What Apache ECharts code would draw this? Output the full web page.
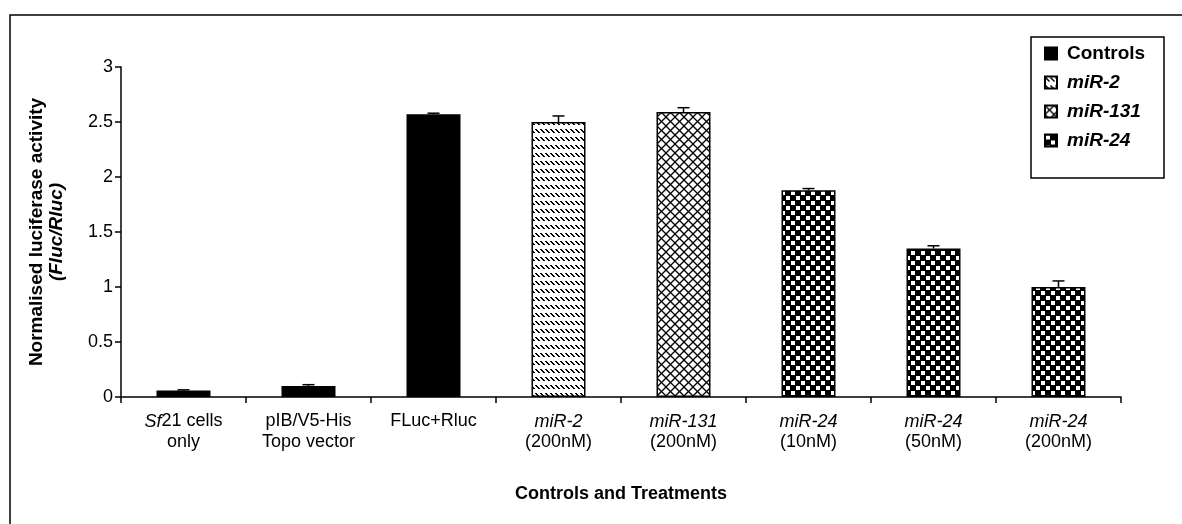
<!DOCTYPE html>
<html>
<head>
<meta charset="utf-8">
<script src="https://cdn.jsdelivr.net/npm/echarts@6/dist/echarts.min.js"></script>
<style>
html,body{margin:0;padding:0;background:#fff;}
#chart{width:1182px;height:524px;}
</style>
</head>
<body>
<div id="chart"></div>
<script>
// ---- data ----
var categories = ['Sf21 cells only', 'pIB/V5-His Topo vector', 'FLuc+Rluc', 'miR-2 (200nM)', 'miR-131 (200nM)', 'miR-24 (10nM)', 'miR-24 (50nM)', 'miR-24 (200nM)'];
var labelLine1 = ['{i|Sf}{n|21 cells}', '{n|pIB/V5-His}', '{n|FLuc+Rluc}', '{i|miR-2}', '{i|miR-131}', '{i|miR-24}', '{i|miR-24}', '{i|miR-24}'];
var labelLine2 = ['{n|only}', '{n|Topo vector}', '', '{n|(200nM)}', '{n|(200nM)}', '{n|(10nM)}', '{n|(50nM)}', '{n|(200nM)}'];
var values = [0.06, 0.10, 2.57, 2.50, 2.59, 1.88, 1.35, 1.00];
var errors = [0.005, 0.012, 0.01, 0.055, 0.04, 0.015, 0.025, 0.055];
var groups = ['Controls', 'Controls', 'Controls', 'miR-2', 'miR-131', 'miR-24', 'miR-24', 'miR-24'];
var seriesNames = ['Controls', 'miR-2', 'miR-131', 'miR-24'];
var yTicks = {min: 0, max: 3, interval: 0.5};

// ---- patterns ----
function makeCanvas(w, h, draw) {
  var c = document.createElement('canvas');
  c.width = w; c.height = h;
  var ctx = c.getContext('2d');
  ctx.fillStyle = '#fff';
  ctx.fillRect(0, 0, w, h);
  draw(ctx);
  return c;
}
var patDiag = makeCanvas(5, 8, function (ctx) {
  ctx.fillStyle = '#000';
  for (var k = 0; k < 4; k++) { ctx.fillRect(k, 1 + k, 2, 1); }
});
var patCross = makeCanvas(9, 9, function (ctx) {
  ctx.strokeStyle = '#000'; ctx.lineWidth = 1.3;
  ctx.beginPath(); ctx.moveTo(0, 0); ctx.lineTo(9, 9); ctx.stroke();
  ctx.beginPath(); ctx.moveTo(9, 0); ctx.lineTo(0, 9); ctx.stroke();
});
var patCheck = makeCanvas(10, 10, function (ctx) {
  ctx.fillStyle = '#000'; ctx.fillRect(0, 0, 10, 10);
  ctx.fillStyle = '#fff';
  ctx.fillRect(1, 1, 4, 4);
  ctx.fillRect(6, 6, 4, 4);
});
var fills = {
  'Controls': '#000',
  'miR-2': {image: patDiag, repeat: 'repeat'},
  'miR-131': {image: patCross, repeat: 'repeat'},
  'miR-24': {image: patCheck, repeat: 'repeat'}
};

var FONT = 'Liberation Sans, Arial, sans-serif';

var barSeries = seriesNames.map(function (name) {
  return {
    name: name,
    type: 'bar',
    barWidth: 54,
    barGap: '-100%',
    data: values.map(function (v, i) { return groups[i] === name ? v : '-'; }),
    itemStyle: {color: fills[name], borderColor: '#000', borderWidth: 1.5},
    emphasis: {disabled: true},
    z: 2
  };
});

var errData = values.map(function (v, i) { return [i, v, errors[i]]; });

var errSeries = {
  name: 'err',
  type: 'custom',
  data: errData,
  encode: {x: 0, y: 1},
  z: 5,
  renderItem: function (params, api) {
    var x = api.value(0), v = api.value(1), e = api.value(2);
    var p0 = api.coord([x, v]);
    var p1 = api.coord([x, v + e]);
    return {
      type: 'group',
      children: [
        {type: 'line', shape: {x1: p0[0], y1: p0[1], x2: p1[0], y2: p1[1]}, style: {stroke: '#000', lineWidth: 1.5}},
        {type: 'line', shape: {x1: p1[0] - 6, y1: p1[1], x2: p1[0] + 6, y2: p1[1]}, style: {stroke: '#000', lineWidth: 1.5}}
      ]
    };
  }
};

var chart = echarts.init(document.getElementById('chart'), null, {renderer: 'canvas'});
chart.setOption({
  backgroundColor: '#fff',
  animation: false,
  grid: {left: 121, right: 61, top: 67, bottom: 127},
  legend: {
    data: seriesNames,
    orient: 'vertical',
    left: 1044,
    top: 44,
    padding: 0,
    itemWidth: 12,
    itemHeight: 12,
    itemGap: 10,
    icon: 'rect',
    selectedMode: false,
    formatter: function (name) {
      return name === 'Controls' ? '{b|' + name + '}' : '{bi|' + name + '}';
    },
    textStyle: {
      fontFamily: FONT,
      fontSize: 19,
      color: '#000',
      rich: {
        b: {fontFamily: FONT, fontSize: 19, fontWeight: 'bold', color: '#000', lineHeight: 18, padding: [0, 0, 0, 5]},
        bi: {fontFamily: FONT, fontSize: 19, fontWeight: 'bold', fontStyle: 'italic', color: '#000', lineHeight: 18, padding: [0, 0, 0, 5]}
      }
    }
  },
  xAxis: {
    type: 'category',
    data: categories,
    name: 'Controls and Treatments',
    nameLocation: 'middle',
    nameGap: 88,
    nameTextStyle: {fontFamily: FONT, fontSize: 18, fontWeight: 'bold', color: '#000'},
    axisLine: {lineStyle: {color: '#000', width: 1.5}},
    axisTick: {show: true, length: 6, lineStyle: {color: '#000', width: 1.5}},
    axisLabel: {
      interval: 0,
      margin: 14,
      color: '#000',
      fontFamily: FONT,
      fontSize: 18,
      lineHeight: 21,
      formatter: function (v, i) {
        return labelLine2[i] ? labelLine1[i] + '\n' + labelLine2[i] : labelLine1[i];
      },
      rich: {
        n: {fontFamily: FONT, fontSize: 18, color: '#000', lineHeight: 21},
        i: {fontFamily: FONT, fontSize: 18, fontStyle: 'italic', color: '#000', lineHeight: 21}
      }
    },
    splitLine: {show: false}
  },
  yAxis: {
    type: 'value',
    min: yTicks.min,
    max: yTicks.max,
    interval: yTicks.interval,
    name: '{a|Normalised luciferase activity}\n{b|(Fluc/Rluc)}',
    nameLocation: 'middle',
    nameRotate: 90,
    nameGap: 54,
    nameTextStyle: {
      fontFamily: FONT,
      fontSize: 19,
      color: '#000',
      rich: {
        a: {fontFamily: FONT, fontSize: 19, fontWeight: 'bold', color: '#000', lineHeight: 20},
        b: {fontFamily: FONT, fontSize: 19, fontWeight: 'bold', fontStyle: 'italic', color: '#000', lineHeight: 20}
      }
    },
    axisLine: {show: true, lineStyle: {color: '#000', width: 1.5}},
    axisTick: {show: true, length: 6, lineStyle: {color: '#000', width: 1.5}},
    axisLabel: {color: '#000', fontFamily: FONT, fontSize: 18, margin: 8},
    splitLine: {show: false}
  },
  graphic: [
    {type: 'polyline', shape: {points: [[10, 524], [10, 15], [1182, 15]]}, style: {stroke: '#000', lineWidth: 1.5, fill: null}},
    {type: 'rect', shape: {x: 1031, y: 37, width: 133, height: 141}, style: {stroke: '#000', lineWidth: 1.5, fill: null}}
  ],
  series: barSeries.concat([errSeries])
});
</script>
</body>
</html>
